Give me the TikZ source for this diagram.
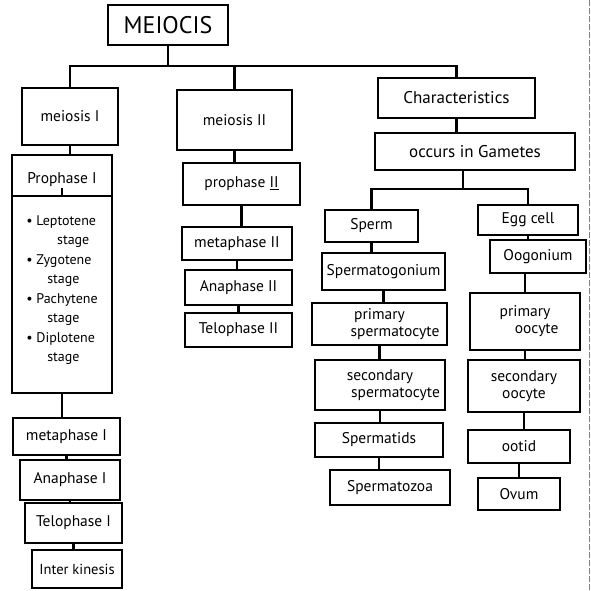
\documentclass[tikz,border=0pt]{standalone}
\usepackage{fontspec}
\setmainfont{PT Sans}
\begin{document}
\begin{tikzpicture}[x=1pt,y=-1pt,
  box/.style={draw, line width=2.2pt, inner sep=2pt, align=center, font=\fontsize{15.5}{17}\selectfont},
  txt/.style={inner sep=1pt, align=center, font=\fontsize{15.5}{17}\selectfont},
  conn/.style={line width=2.2pt}]
\useasboundingbox (0,0) rectangle (591,590);
\draw[line width=0.8pt, gray, dash pattern=on 6pt off 2pt] (589,0) -- (589,590);
% top
\node[box, minimum width=120pt, minimum height=40pt, font=\fontsize{24}{26}\selectfont] (meiocis) at (168,25) {MEIOCIS};
\node[box, minimum width=96pt, minimum height=57pt] (m1) at (70,116.5) {meiosis I};
\node[box, minimum width=115pt, minimum height=60pt] (m2) at (234.5,120) {meiosis II};
\node[box, minimum width=157pt, minimum height=40pt, font=\fontsize{17}{19}\selectfont] (ch) at (456.5,98) {Characteristics};
\coordinate (j0) at (168,66);
\draw[conn] (meiocis.south) -- (j0);
\draw[conn] (m1.north) -- (m1.north |- j0) -- (ch.north |- j0) -- (ch.north);
\draw[conn] (m2.north) -- (m2.north |- j0);
% meiosis I column
\node[box, minimum width=100pt, minimum height=238pt] (p1) at (62,274) {};
\node[txt] (hdr) at (62,180) {Prophase I};
\coordinate (dv) at (0,196);
\draw[conn] (p1.west |- dv) -- (p1.east |- dv);
\draw[conn] (hdr.south) -- ++(0,8);
\node[txt, align=left, font=\fontsize{14}{19.5}\selectfont] (plist) at (62,290)
  {\textbullet\ Leptotene\\ \hspace*{2.2em}stage\\ \textbullet\ Zygotene\\ \hspace*{1.5em}stage\\ \textbullet\ Pachytene\\ \hspace*{1.5em}stage\\ \textbullet\ Diplotene\\ \hspace*{1.5em}stage};
\node[box, minimum width=107pt, minimum height=37pt] (me1) at (66.5,436.5) {metaphase I};
\node[box, minimum width=100pt, minimum height=40pt] (an1) at (70,480) {Anaphase I};
\node[box, minimum width=97pt, minimum height=40pt] (te1) at (73.5,523) {Telophase I};
\node[box, minimum width=90pt, minimum height=38pt, font=\fontsize{14.5}{16}\selectfont] (ik) at (77,569) {Inter kinesis};
\draw[conn] (m1.south) -- (m1.south |- p1.north);
\draw[conn] (p1.south) -- (p1.south |- me1.north);
\draw[conn] (me1.south) -- (me1.south |- an1.north);
\draw[conn] (an1.south) -- (an1.south |- te1.north);
\draw[conn] (te1.south) -- (te1.south |- ik.north);
% meiosis II column
\node[box, minimum width=117pt, minimum height=42pt] (p2) at (241.5,184) {prophase \underline{II}};
\node[box, minimum width=110pt, minimum height=33pt] (me2) at (237,243.5) {metaphase II};
\node[box, minimum width=107pt, minimum height=35pt] (an2) at (238.5,287.5) {Anaphase II};
\node[box, minimum width=107pt, minimum height=34pt] (te2) at (238.5,330) {Telophase II};
\draw[conn] (m2.south) -- (m2.south |- p2.north);
\draw[conn] (p2.south) -- (p2.south |- me2.north);
\draw[conn] (me2.south) -- (me2.south |- an2.north);
\draw[conn] (an2.south) -- (an2.south |- te2.north);
% characteristics column
\node[box, minimum width=200pt, minimum height=37pt, font=\fontsize{17}{19}\selectfont] (occ) at (475,151.5) {occurs in Gametes};
\draw[conn] (ch.south) -- (ch.south |- occ.north);
\node[box, minimum width=93pt, minimum height=32pt] (sp) at (371.5,226) {Sperm};
\node[box, minimum width=100pt, minimum height=30pt] (eg) at (528,220) {Egg cell};
\coordinate (j1) at (463,189);
\draw[conn] (occ.south -| j1) -- (j1);
\draw[conn] (sp.north) |- (j1) -| (eg.north);
\node[box, minimum width=123pt, minimum height=37pt] (sg) at (383.5,271.5) {Spermatogonium};
\node[box, minimum width=135pt, minimum height=42pt] (ps) at (379.5,324) {primary\\ \hspace*{2em}spermatocyte};
\node[box, minimum width=130pt, minimum height=50pt] (ss) at (380,385) {secondary\\ \hspace*{2em}spermatocyte};
\node[box, minimum width=128pt, minimum height=34pt] (sd) at (379,440) {Spermatids};
\node[box, minimum width=120pt, minimum height=35pt] (sz) at (390,487.5) {Spermatozoa};
\draw[conn] (sp.south) -- (sp.south |- sg.north);
\draw[conn] (sg.south) -- (sg.south |- ps.north);
\draw[conn] (ps.south) -- (ps.south |- ss.north);
\draw[conn] (ss.south) -- (ss.south |- sd.north);
\draw[conn] (sd.south) -- (sd.south |- sz.north);
\node[box, minimum width=96pt, minimum height=33pt] (og) at (538,256.5) {Oogonium};
\node[box, minimum width=110pt, minimum height=57pt] (po) at (525,321.5) {primary\\ \hspace*{1.5em}oocyte};
\node[box, minimum width=112pt, minimum height=52pt] (so) at (524,386) {secondary\\ oocyte};
\node[box, minimum width=102pt, minimum height=33pt] (ot) at (519,446.5) {ootid};
\node[box, minimum width=82pt, minimum height=32pt] (ov) at (519,494) {Ovum};
\draw[conn] (eg.south) -- (eg.south |- og.north);
\draw[conn] (og.south -| po.north) -- (po.north);
\draw[conn] (po.south) -- (po.south |- so.north);
\draw[conn] (so.south) -- (so.south |- ot.north);
\draw[conn] (ot.south) -- (ot.south |- ov.north);
\end{tikzpicture}
\end{document}
